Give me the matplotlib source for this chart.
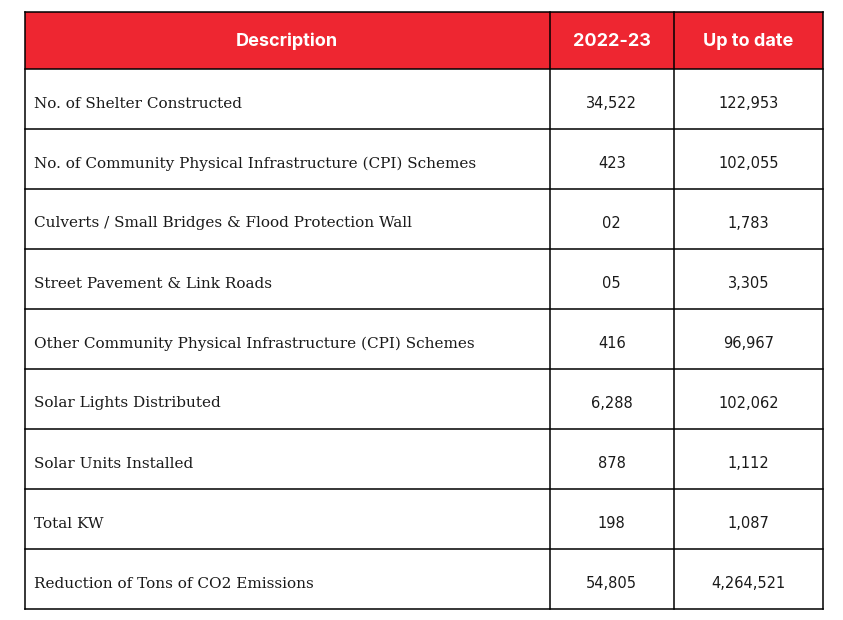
import matplotlib.pyplot as plt
from matplotlib.patches import Rectangle

# table data
headers = ["Description", "2022-23", "Up to date"]
descriptions = [
    "No. of Shelter Constructed",
    "No. of Community Physical Infrastructure (CPI) Schemes",
    "Culverts / Small Bridges & Flood Protection Wall",
    "Street Pavement & Link Roads",
    "Other Community Physical Infrastructure (CPI) Schemes",
    "Solar Lights Distributed",
    "Solar Units Installed",
    "Total KW",
    "Reduction of Tons of CO2 Emissions",
]
year_values = ["34,522", "423", "02", "05", "416", "6,288", "878", "198", "54,805"]
to_date_values = ["122,953", "102,055", "1,783", "3,305", "96,967",
                  "102,062", "1,112", "1,087", "4,264,521"]

W, H = 843, 620
fig = plt.figure(figsize=(W / 100, H / 100), dpi=100)
ax = fig.add_axes([0, 0, 1, 1])
ax.set_xlim(0, W)
ax.set_ylim(H, 0)
ax.axis("off")

# layout in pixels
col_x = [24.5, 550, 673.5, 823]
top = 11.5
head_h = 57
row_h = 60
red = "#ee2631"

ax.add_patch(Rectangle((col_x[0], top), col_x[-1] - col_x[0], head_h,
                       facecolor=red, edgecolor="none"))

n = len(descriptions)
bottom = top + head_h + n * row_h

# grid lines
for x in col_x:
    ax.plot([x, x], [top, bottom], color="black", lw=1.1, solid_capstyle="projecting")
ys = [top, top + head_h] + [top + head_h + (i + 1) * row_h for i in range(n)]
for y in ys:
    ax.plot([col_x[0], col_x[-1]], [y, y], color="black", lw=1.1, solid_capstyle="projecting")

# header text
for j, h in enumerate(headers):
    cx = (col_x[j] + col_x[j + 1]) / 2
    ax.text(cx, top + head_h / 2 + 1, h, ha="center", va="center", color="white",
            fontsize=13, fontweight="bold", family="Inter")

# body text
for i in range(n):
    cy = top + head_h + i * row_h + row_h / 2 + 5
    ax.text(col_x[0] + 9, cy, descriptions[i], ha="left", va="center",
            fontsize=11, family="DejaVu Serif", color="#1a1a1a")
    ax.text((col_x[1] + col_x[2]) / 2, cy, year_values[i], ha="center", va="center",
            fontsize=10.5, family="DejaVu Sans", color="#1a1a1a")
    ax.text((col_x[2] + col_x[3]) / 2, cy, to_date_values[i], ha="center", va="center",
            fontsize=10.5, family="DejaVu Sans", color="#1a1a1a")

fig.savefig("out.png", dpi=100, facecolor="white")
